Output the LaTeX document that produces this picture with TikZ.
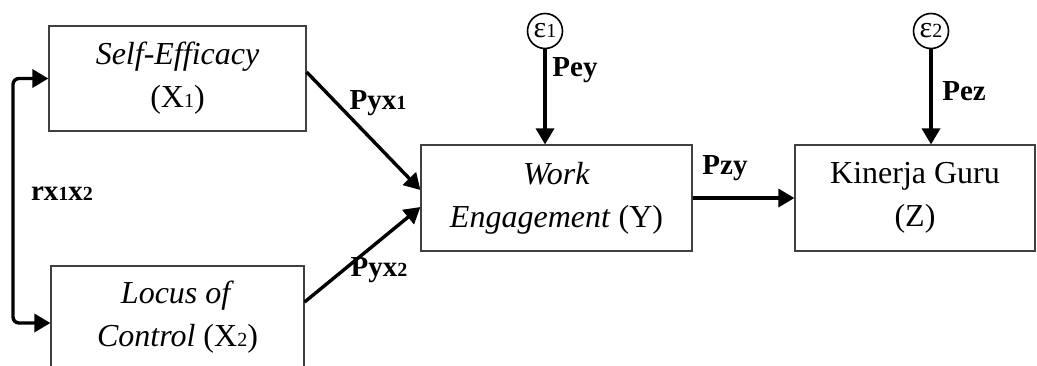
\documentclass[tikz,border=0pt]{standalone}
\usepackage{fontspec}
\setmainfont{Liberation Serif}
\usetikzlibrary{arrows.meta}
\newcommand{\sbs}[1]{{\fontsize{10}{10}\selectfont #1}}
\begin{document}
\begin{tikzpicture}[x=0.5pt,y=-0.5pt,
                    mbox/.style = {shape = rectangle,
                                   draw = black!75,
                                   line width = 0.6pt,
                                   align = center,
                                   inner sep = 0pt,
                                   font = \fontsize{16}{21.5}\selectfont},
                    merr/.style = {shape = circle,
                                   draw,
                                   line width = 0.8pt,
                                   inner sep = 0pt,
                                   minimum size = 17.5pt,
                                   font = \fontsize{15}{15}\selectfont},
                    mpath/.style = {line width = 1.7pt,
                                    -{Triangle[length=8pt,width=9pt]}},
                    mlabel/.style = {inner sep = 0pt,
                                     font = \bfseries\fontsize{14.5}{14.5}\selectfont}]
		\useasboundingbox (0,0) rectangle (1037,365);
		\node[mbox, minimum width = 128.5pt, minimum height = 52.5pt] (x1) at (177.5,78.5) {\textit{Self-Efficacy}\\(X\sbs{1})};
		\node[mbox, minimum width = 126.5pt, minimum height = 51pt] (x2) at (177.5,317) {\textit{Locus of}\\\textit{Control} (X\sbs{2})};
		\node[mbox, minimum width = 135.5pt, minimum height = 53pt] (y) at (556.5,198) {\textit{Work}\\\textit{Engagement} (Y)};
		\node[mbox, minimum width = 120pt, minimum height = 53pt] (z) at (915,198) {Kinerja Guru\\(Z)};
		\node[merr] (e1) at (545,31) {ε\sbs{1}};
		\node[merr] (e2) at (931,31) {ε\sbs{2}};
		\coordinate (r) at (13,200);
		\draw[mpath, {Triangle[length=8pt,width=9pt]}-{Triangle[length=8pt,width=9pt]}, rounded corners = 3pt] (x1.west) -| (r) |- ([yshift=-3pt]x2.west);
		\path[mpath] ([yshift=3.25pt]x1.east) edge ([yshift=4pt]y.west);
		\path[mpath] ([yshift=7.5pt]x2.east) edge ([yshift=-4.5pt]y.west);
		\path[mpath] (y) edge (z);
		\path[mpath] (e1) edge (e1 |- y.north);
		\path[mpath] (e2) edge (e2 |- z.north);
		\node[mlabel] (l1) at (62,194) {rx\sbs{1}x\sbs{2}};
		\node[mlabel] (l2) at (378,103) {Pyx\sbs{1}};
		\node[mlabel] (l3) at (379,270) {Pyx\sbs{2}};
		\node[mlabel] (l4) at (575,70) {Pey};
		\node[mlabel] (l5) at (964,91) {Pez};
		\node[mlabel] (l6) at (725,168) {Pzy};
	\end{tikzpicture}
\end{document}
